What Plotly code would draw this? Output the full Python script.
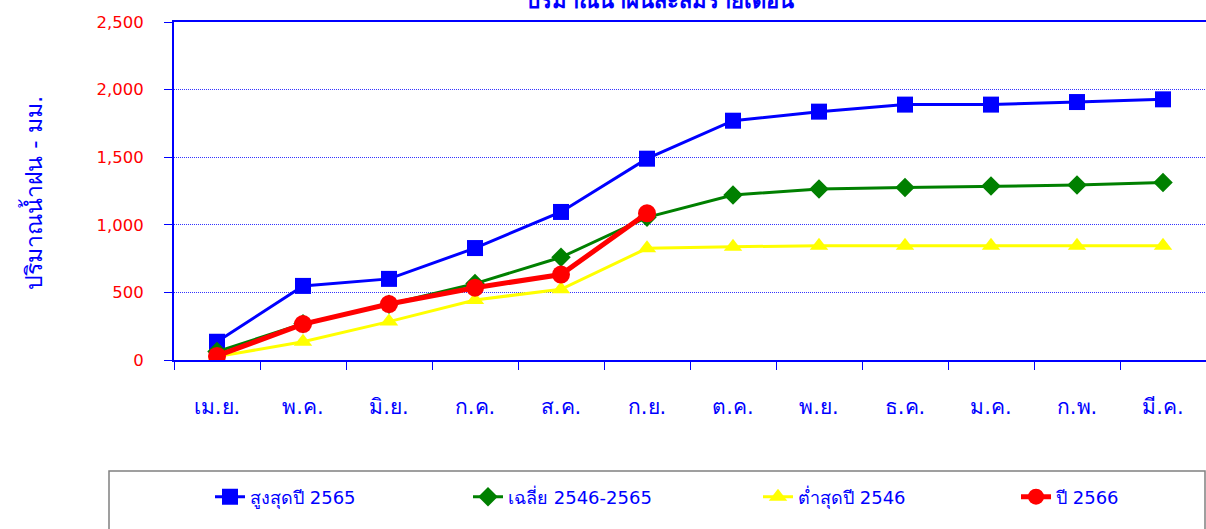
import plotly.graph_objects as go

months = ["เม.ย.", "พ.ค.", "มิ.ย.", "ก.ค.", "ส.ค.", "ก.ย.", "ต.ค.", "พ.ย.", "ธ.ค.", "ม.ค.", "ก.พ.", "มี.ค."]
max_2565 = [135, 548, 600, 828, 1095, 1489, 1770, 1837, 1889, 1889, 1908, 1928]
avg_2546_2565 = [62, 268, 412, 565, 760, 1055, 1220, 1265, 1275, 1287, 1294, 1312]
min_2546 = [25, 135, 284, 444, 523, 826, 838, 845, 845, 845, 845, 845]
year_2566 = [30, 266, 414, 535, 632, 1085]

names = ["สูงสุดปี 2565", "เฉลี่ย 2546-2565", "ต่ำสุดปี 2546", "ปี 2566"]
FONT = "Tahoma, DejaVu Sans, sans-serif"

L, R, T, B = 174, 0, 22, 169
W, H = 1206, 529
pw = W - L - R
ph = H - T - B

def px_x(x):
    return (x - L) / pw

def px_y(y):
    return (H - B - y) / ph

fig = go.Figure()
fig.add_trace(go.Scatter(x=months, y=max_2565, name=names[0], mode="lines+markers",
                         line=dict(color="#0000FF", width=3),
                         marker=dict(symbol="square", size=16, color="#0000FF"), legend="legend"))
fig.add_trace(go.Scatter(x=months, y=avg_2546_2565, name=names[1], mode="lines+markers",
                         line=dict(color="#008000", width=3),
                         marker=dict(symbol="diamond", size=15, color="#008000"), legend="legend2"))
fig.add_trace(go.Scatter(x=months, y=min_2546, name=names[2], mode="lines+markers",
                         line=dict(color="#FFFF00", width=3),
                         marker=dict(symbol="triangle-up", size=16, color="#FFFF00"), legend="legend3"))
fig.add_trace(go.Scatter(x=months[:len(year_2566)], y=year_2566, name=names[3], mode="lines+markers",
                         line=dict(color="#FF0000", width=5),
                         marker=dict(symbol="circle", size=18, color="#FF0000"), legend="legend4"))

text_starts = [250, 508, 798, 1056]
leg_common = dict(orientation="h", xanchor="left", yanchor="middle", bgcolor="rgba(0,0,0,0)",
                  font=dict(family=FONT, size=18, color="#0000FF"), borderwidth=0)
legends = {}
for i, ts in enumerate(text_starts):
    key = "legend" if i == 0 else f"legend{i+1}"
    legends[key] = dict(leg_common, x=px_x(ts - 40), y=px_y(497))

fig.update_layout(
    width=W, height=H,
    margin=dict(l=L, r=R, t=T, b=B, autoexpand=False),
    paper_bgcolor="white", plot_bgcolor="white",
    showlegend=True,
    title=dict(text="<b>ปริมาณน้ำฝนสะสมรายเดือน</b>", x=660 / W, xanchor="center",
               y=1.0, yanchor="middle", yref="container",
               font=dict(family=FONT, size=22, color="#0000FF")),
    xaxis=dict(type="category", range=[-0.5, 11.5], tickson="boundaries",
               ticks="outside", ticklen=8, tickcolor="#0000FF", tickwidth=1,
               showline=True, linecolor="#0000FF", linewidth=2, mirror=True,
               showgrid=False, tickfont=dict(family=FONT, size=21, color="#0000FF"),
               ticklabelstandoff=27),
    yaxis=dict(range=[0, 2500], dtick=500, tickformat=",d",
               ticks="outside", ticklen=8, tickcolor="#0000FF", tickwidth=1,
               showline=True, linecolor="#0000FF", linewidth=2,
               showgrid=True, gridcolor="#3333FF", griddash="1px,1px", gridwidth=1,
               zeroline=False,
               tickfont=dict(family=FONT, size=16.5, color="#FF0000"),
               ticklabelstandoff=17),
    annotations=[dict(text="ปริมาณน้ำฝน - มม.", textangle=-90, xref="paper", yref="paper",
                      x=px_x(32), y=px_y(193), xanchor="center", yanchor="middle",
                      showarrow=False, font=dict(family=FONT, size=23, color="#0000FF"))],
    shapes=[dict(type="rect", xref="paper", yref="paper", x0=px_x(109), x1=px_x(1205),
                 y0=px_y(560), y1=px_y(471), line=dict(color="#808080", width=1.5),
                 fillcolor="rgba(0,0,0,0)")],
    **legends,
)

fig.write_html("out.html", config={"displayModeBar": False},
               post_script="document.body.style.margin='0';document.body.style.padding='0';document.body.style.overflow='hidden';")
